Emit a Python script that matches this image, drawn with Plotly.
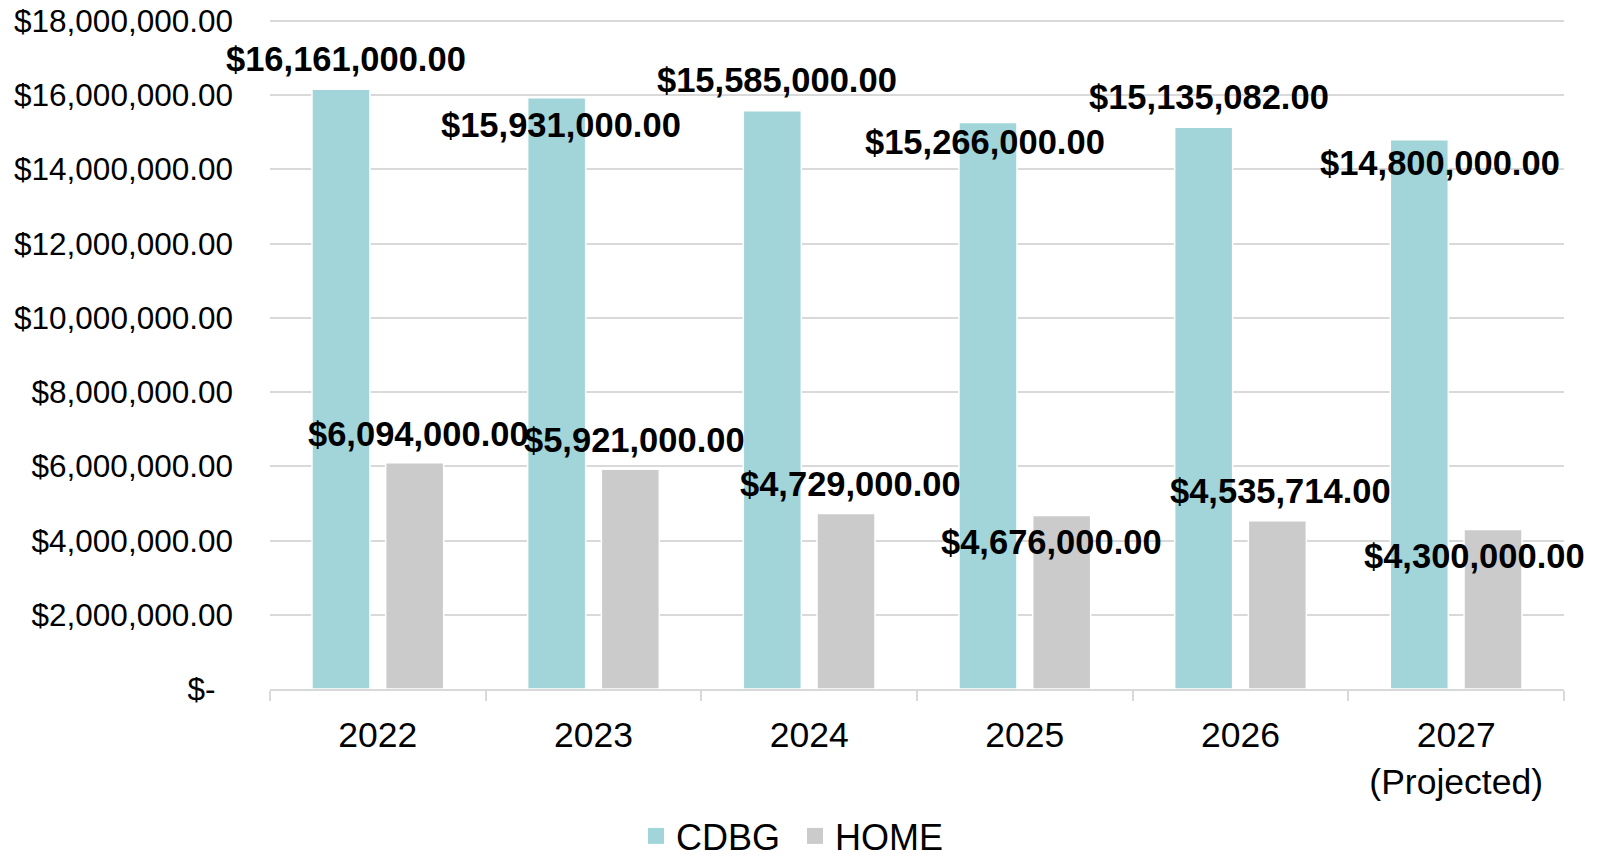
import plotly.graph_objects as go

categories = ["2022", "2023", "2024", "2025", "2026", "2027<br>(Projected)"]
cdbg = [16161000, 15931000, 15585000, 15266000, 15135082, 14800000]
home = [6094000, 5921000, 4729000, 4676000, 4535714, 4300000]
y_ticks = [0, 2000000, 4000000, 6000000, 8000000, 10000000, 12000000, 14000000, 16000000, 18000000]

# label placement offsets (px) relative to bar center / bar top, Excel-style
cdbg_dx = [5, 4, 5, -3, 5, 21]
cdbg_dy = [30, -27, 31, -20, 30, -23]
home_dx = [4, 4, 4, -10, 3, -19]
home_dy = [29, 29, 30, -27, 30, -27]

TEAL = "#A1D5D9"
GRAY = "#CBCBCB"
GRID = "#D9D9D9"
FONT = "Arial, Liberation Sans, sans-serif"
BAR_OFF = 37


def money(v):
    return "${:,.2f}".format(v)


fig = go.Figure()
fig.add_trace(go.Bar(x=categories, y=cdbg, name="CDBG", showlegend=False,
                     marker=dict(color=TEAL, line=dict(color="white", width=1.5))))
fig.add_trace(go.Bar(x=categories, y=home, name="HOME", showlegend=False,
                     marker=dict(color=GRAY, line=dict(color="white", width=1.5))))
# legend entries with larger square swatches (no visible points)
fig.add_trace(go.Scatter(x=[categories[0]], y=[None], mode="markers", name="CDBG\u00a0",
                         marker=dict(symbol="square", size=16, color=TEAL)))
fig.add_trace(go.Scatter(x=[categories[0]], y=[None], mode="markers", name="HOME",
                         marker=dict(symbol="square", size=16, color=GRAY)))

annotations = []
for i, c in enumerate(categories):
    annotations.append(dict(x=i, y=cdbg[i], text="<b>" + money(cdbg[i]) + "</b>", showarrow=False,
                            xshift=-BAR_OFF + cdbg_dx[i], yshift=cdbg_dy[i], yanchor="middle", xanchor="center",
                            font=dict(family=FONT, size=34.5, color="black")))
    annotations.append(dict(x=i, y=home[i], text="<b>" + money(home[i]) + "</b>", showarrow=False,
                            xshift=BAR_OFF + home_dx[i], yshift=home_dy[i], yanchor="middle", xanchor="center",
                            font=dict(family=FONT, size=34.5, color="black")))

tick_text = ["$-\u00a0\u00a0" if v == 0 else money(v) for v in y_ticks]

# page body has an 8px margin, so the figure is sized/offset to compensate
fig.update_layout(
    width=1589, height=851,
    margin=dict(l=262, r=33, t=11, b=170, autoexpand=False),
    paper_bgcolor="white", plot_bgcolor="white",
    barmode="group", bargap=0.3166, bargroupgap=0.213,
    font=dict(family=FONT, color="black"),
    annotations=annotations,
    legend=dict(orientation="h", xref="container", yref="container", x=0.4937, y=0.027,
                xanchor="center", yanchor="middle", font=dict(size=36, family=FONT, color="black"),
                itemwidth=30),
    xaxis=dict(type="category", range=[-0.5, len(categories) - 0.5], automargin=False,
               showline=True, linecolor=GRID, linewidth=1.5, ticks="outside",
               tickson="boundaries", ticklen=10, tickcolor=GRID, tickwidth=1.5, tickangle=0,
               tickfont=dict(size=35.5, family=FONT, color="black"), showgrid=False, ticklabelstandoff=14),
    yaxis=dict(range=[0, max(y_ticks) * 1.003], tickvals=y_ticks, ticktext=tick_text, showgrid=True,
               automargin=False, gridcolor=GRID, gridwidth=1.5, zeroline=False, showline=False, ticks="",
               ticklabeloverflow="allow",
               tickfont=dict(size=31.5, family=FONT, color="black"), ticklabelstandoff=36),
)

fig.write_html("out.html")
